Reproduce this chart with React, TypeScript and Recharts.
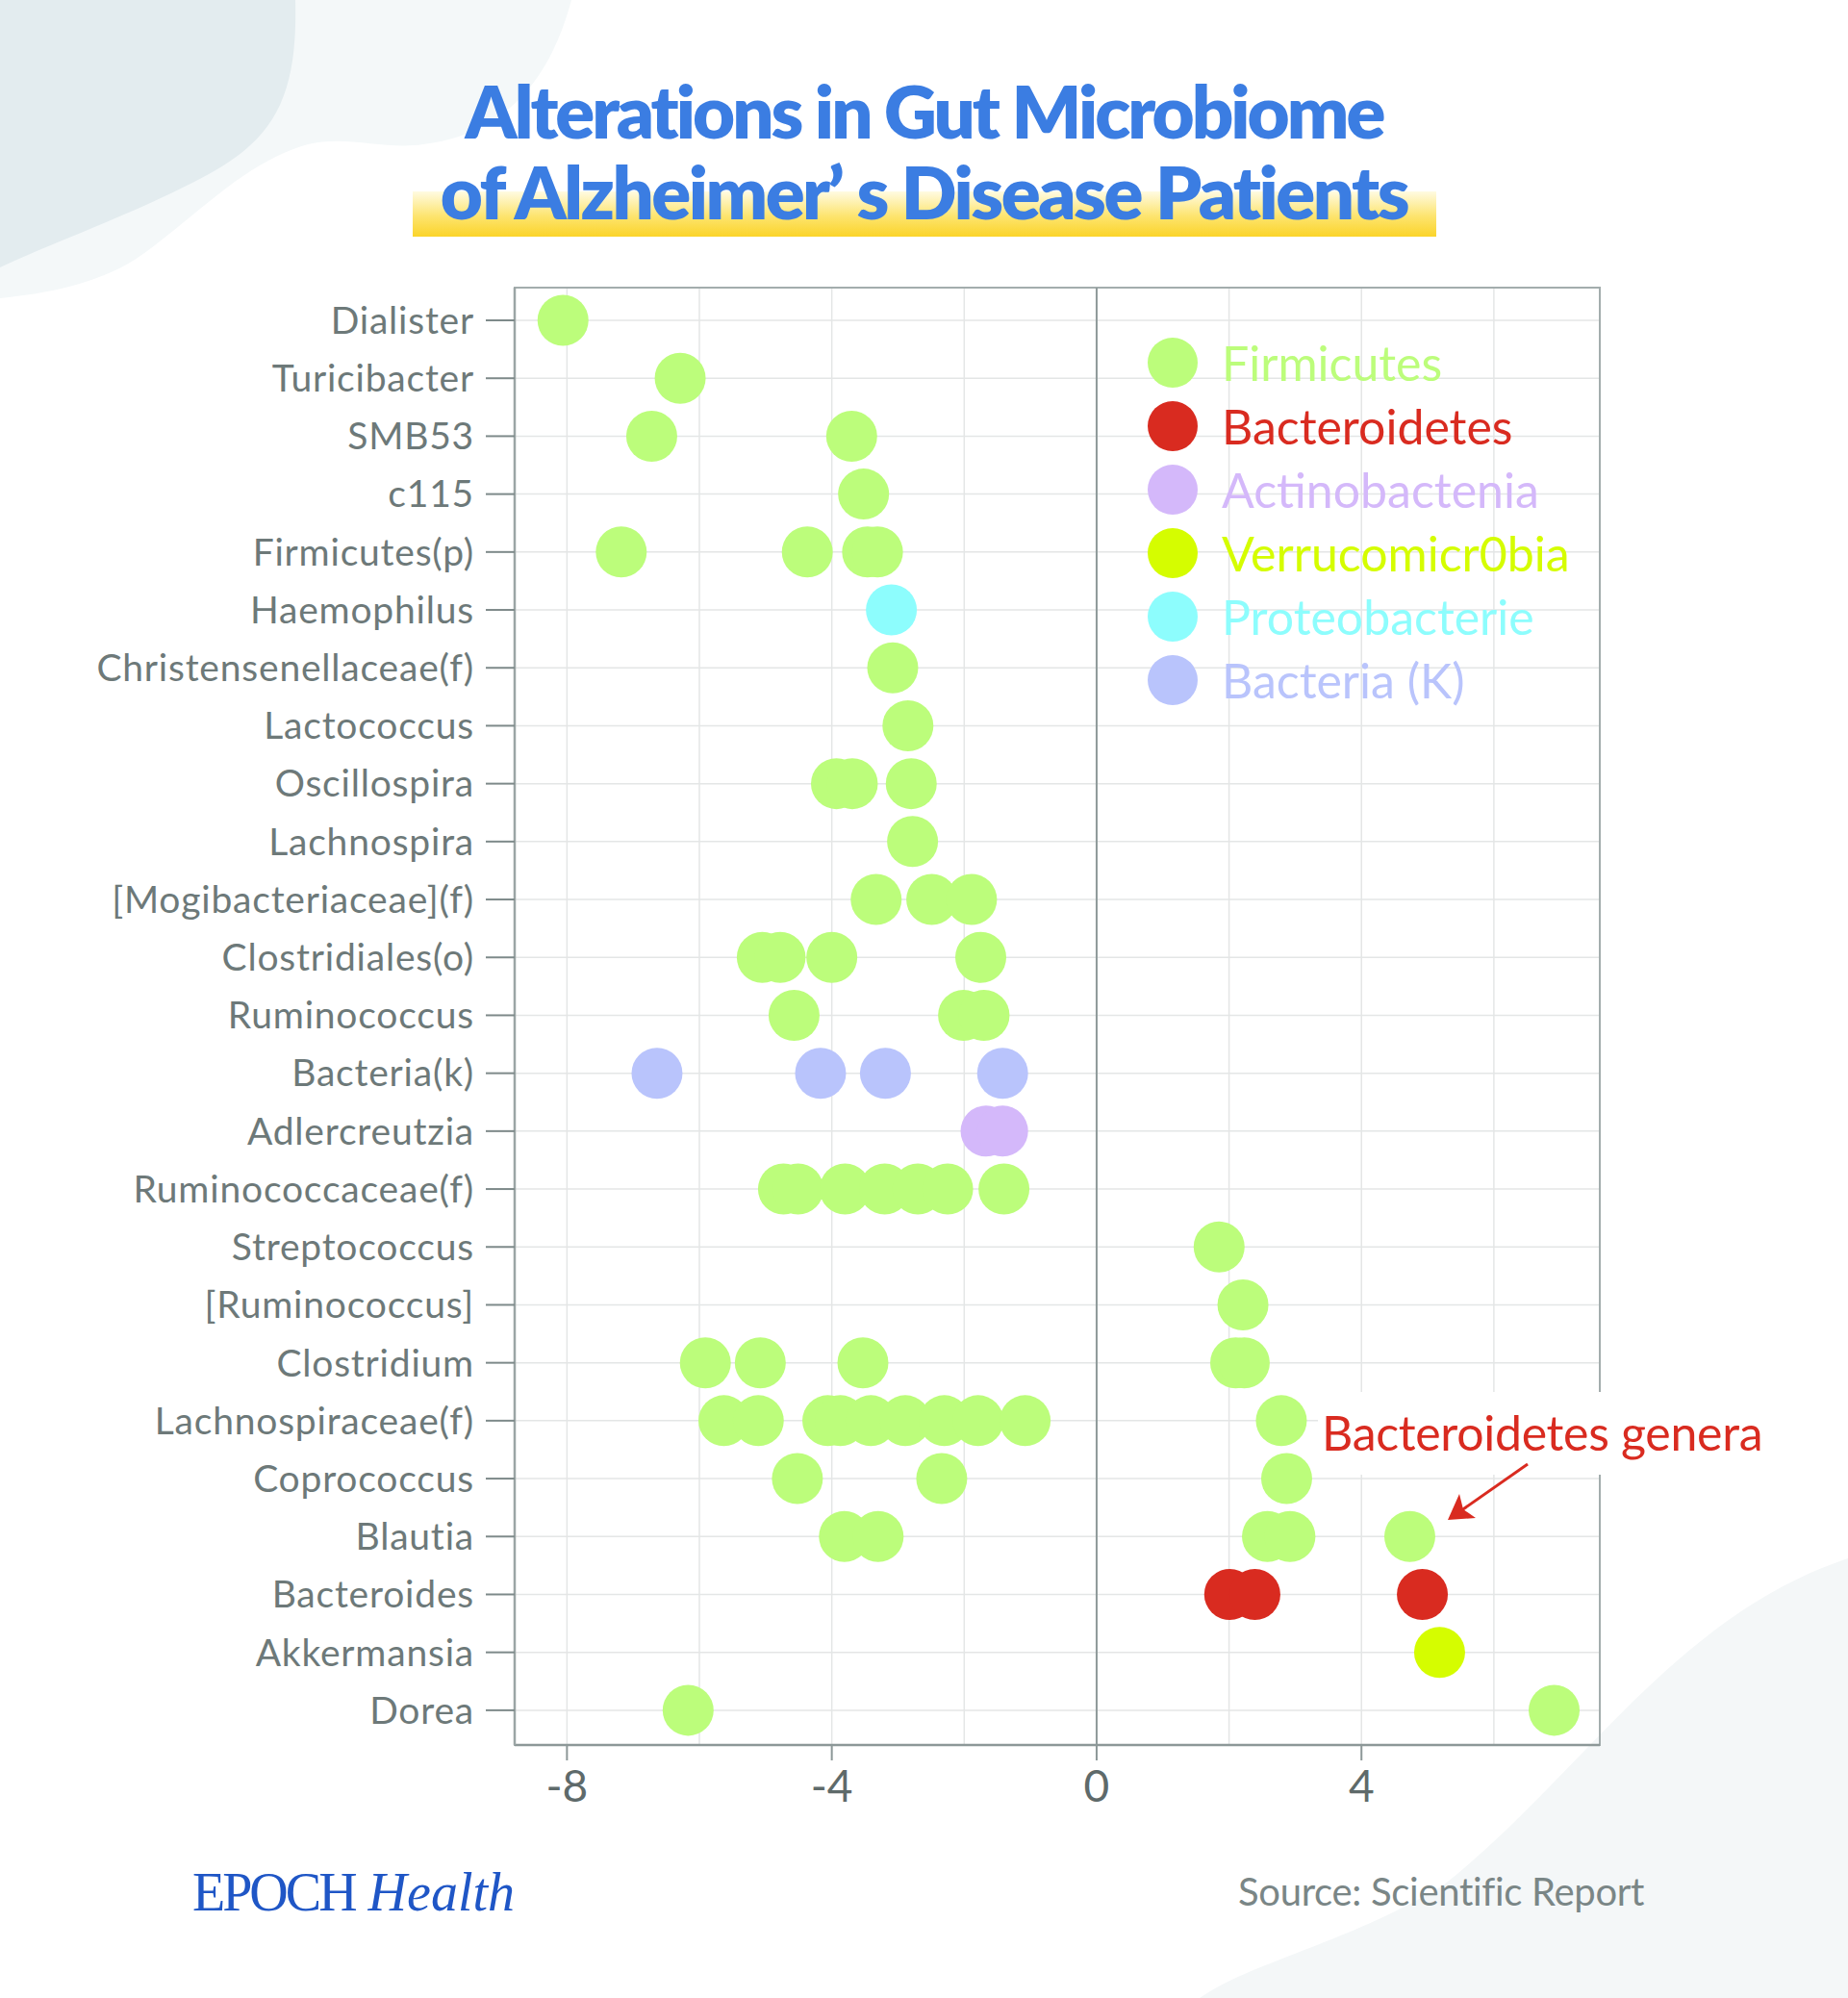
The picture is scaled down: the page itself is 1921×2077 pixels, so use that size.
import React from "react";
import {
  ScatterChart,
  Scatter,
  XAxis,
  YAxis,
  CartesianGrid,
  ReferenceLine,
  ReferenceArea,
  Legend,
} from "recharts";

// genera, top to bottom
const genera = [
  "Dialister",
  "Turicibacter",
  "SMB53",
  "c115",
  "Firmicutes(p)",
  "Haemophilus",
  "Christensenellaceae(f)",
  "Lactococcus",
  "Oscillospira",
  "Lachnospira",
  "[Mogibacteriaceae](f)",
  "Clostridiales(o)",
  "Ruminococcus",
  "Bacteria(k)",
  "Adlercreutzia",
  "Ruminococcaceae(f)",
  "Streptococcus",
  "[Ruminococcus]",
  "Clostridium",
  "Lachnospiraceae(f)",
  "Coprococcus",
  "Blautia",
  "Bacteroides",
  "Akkermansia",
  "Dorea",
];

// [genus, log fold change]
const firmicutes: [string, number][] = [
  ["Dialister", -8.06],
  ["Turicibacter", -6.29],
  ["SMB53", -6.72], ["SMB53", -3.7],
  ["c115", -3.52],
  ["Firmicutes(p)", -7.18], ["Firmicutes(p)", -4.37], ["Firmicutes(p)", -3.46], ["Firmicutes(p)", -3.31],
  ["Christensenellaceae(f)", -3.08],
  ["Lactococcus", -2.85],
  ["Oscillospira", -3.93], ["Oscillospira", -3.69], ["Oscillospira", -2.8],
  ["Lachnospira", -2.78],
  ["[Mogibacteriaceae](f)", -3.33], ["[Mogibacteriaceae](f)", -2.49], ["[Mogibacteriaceae](f)", -1.89],
  ["Clostridiales(o)", -5.05], ["Clostridiales(o)", -4.78], ["Clostridiales(o)", -4.0], ["Clostridiales(o)", -1.75],
  ["Ruminococcus", -4.57], ["Ruminococcus", -2.01], ["Ruminococcus", -1.7],
  ["Ruminococcaceae(f)", -4.73], ["Ruminococcaceae(f)", -4.51], ["Ruminococcaceae(f)", -3.8], ["Ruminococcaceae(f)", -3.2],
  ["Ruminococcaceae(f)", -2.7], ["Ruminococcaceae(f)", -2.25], ["Ruminococcaceae(f)", -1.4],
  ["Streptococcus", 1.85],
  ["[Ruminococcus]", 2.21],
  ["Clostridium", -5.91], ["Clostridium", -5.08], ["Clostridium", -3.53], ["Clostridium", 2.1], ["Clostridium", 2.23],
  ["Lachnospiraceae(f)", -5.63], ["Lachnospiraceae(f)", -5.11], ["Lachnospiraceae(f)", -4.06], ["Lachnospiraceae(f)", -3.87],
  ["Lachnospiraceae(f)", -3.41], ["Lachnospiraceae(f)", -2.89], ["Lachnospiraceae(f)", -2.3], ["Lachnospiraceae(f)", -1.79],
  ["Lachnospiraceae(f)", -1.08], ["Lachnospiraceae(f)", 2.79],
  ["Coprococcus", -4.52], ["Coprococcus", -2.34], ["Coprococcus", 2.87],
  ["Blautia", -3.81], ["Blautia", -3.3], ["Blautia", 2.58], ["Blautia", 2.92], ["Blautia", 4.73],
  ["Dorea", -6.17], ["Dorea", 6.91],
];
const bacteroidetes: [string, number][] = [
  ["Bacteroides", 2.01], ["Bacteroides", 2.39], ["Bacteroides", 4.92],
];
const actinobacteria: [string, number][] = [
  ["Adlercreutzia", -1.67], ["Adlercreutzia", -1.42],
];
const verrucomicrobia: [string, number][] = [["Akkermansia", 5.18]];
const proteobacteria: [string, number][] = [["Haemophilus", -3.1]];
const bacteriaK: [string, number][] = [
  ["Bacteria(k)", -6.64], ["Bacteria(k)", -4.17], ["Bacteria(k)", -3.19], ["Bacteria(k)", -1.42],
];

const xTicks = [-8, -6, -4, -2, 0, 2, 4, 6];
const xLabels = [-8, -4, 0, 4];
const X_DOMAIN: [number, number] = [-8.79, 7.6];
const Y_DOMAIN: [number, number] = [-0.565, 24.6];

const FONT = "Lato, 'Noto Sans', sans-serif";

const series = [
  { name: "Firmicutes", color: "#bcfd7b", rows: firmicutes },
  { name: "Bacteroidetes", color: "#d92b20", rows: bacteroidetes },
  { name: "Actinobactenia", color: "#d4b8fa", rows: actinobacteria },
  { name: "Verrucomicr0bia", color: "#d5fd00", rows: verrucomicrobia },
  { name: "Proteobacterie", color: "#8dfdfd", rows: proteobacteria },
  { name: "Bacteria (K)", color: "#b9c4fc", rows: bacteriaK },
];
const seriesOrder = series.map((s) => s.name);

const toPoints = (rows: [string, number][]) =>
  rows.map(([g, v]) => ({ x: v, y: genera.indexOf(g), genus: g }));

const XTick = (props: any) => {
  const { x, y, payload } = props;
  const v = payload.value;
  if (!xLabels.includes(v)) return null;
  return (
    <g>
      <line x1={x} x2={x} y1={y - 26} y2={y - 10} stroke="#8d9898" strokeWidth={2} />
      <text x={x} y={y} dy="0.71em" textAnchor="middle" fill="#5e6a6a" fontSize={46} fontFamily={FONT}>
        {v}
      </text>
    </g>
  );
};

const LegendContent = (props: any) => {
  const items = [...(props.payload || [])].sort(
    (a: any, b: any) => seriesOrder.indexOf(a.value) - seriesOrder.indexOf(b.value)
  );
  return (
    <div style={{ fontFamily: FONT }}>
      {items.map((it: any) => (
        <div key={it.value} style={{ display: "flex", alignItems: "center", height: 66 }}>
          <div
            style={{
              width: 52,
              height: 52,
              borderRadius: "50%",
              background: it.color,
              marginLeft: 3,
              flex: "none",
            }}
          />
          <span style={{ marginLeft: 25, fontSize: 50, color: it.color, lineHeight: "50px", whiteSpace: "nowrap" }}>
            {it.value}
          </span>
        </div>
      ))}
    </div>
  );
};

export default function App() {
  return (
    <div style={{ position: "absolute", left: 0, top: 0, width: 1921, height: 2077, background: "#fff", overflow: "hidden" }}>
      <svg width={1921} height={2077} style={{ position: "absolute", left: 0, top: 0 }}>
        <path d="M0,0 L594,0 C570,90 520,140 440,150 C400,156 360,140 320,150 C250,170 200,230 140,270 C100,295 50,305 0,310 Z" fill="#f4f8f9" />
        <path d="M0,0 L307,0 C310,110 280,150 200,190 C120,230 60,250 0,278 Z" fill="#e3ecef" />
        <path d="M1921,1620 C1740,1680 1640,1850 1500,1960 C1400,2020 1300,2040 1247,2077 L1921,2077 Z" fill="#f4f7f8" />
      </svg>

      <div style={{ position: "absolute", left: 429, top: 199, width: 1064, height: 47, background: "linear-gradient(to bottom, #fffbe2 0%, #fde46e 55%, #fbd42a 100%)" }} />
      <div style={{ position: "absolute", left: 0, top: 77, width: 1921, textAlign: "center", fontFamily: FONT, fontWeight: 800, fontSize: 76, lineHeight: "76px", letterSpacing: -3, color: "#3b7de2", whiteSpace: "nowrap" }}>
        Alterations in Gut Microbiome
      </div>
      <div style={{ position: "absolute", left: 0, top: 161, width: 1921, textAlign: "center", fontFamily: FONT, fontWeight: 800, fontSize: 76, lineHeight: "76px", letterSpacing: -2.5, color: "#3b7de2", whiteSpace: "nowrap" }}>
        of Alzheimer’ s Disease Patients
      </div>

      <div style={{ position: "absolute", left: 0, top: 0 }}>
        <ScatterChart width={1921} height={2077} margin={{ top: 299, right: 258, bottom: 203, left: 0 }}>
          <CartesianGrid stroke="#e4e6e6" strokeWidth={1.5} />
          <XAxis
            type="number"
            dataKey="x"
            domain={X_DOMAIN}
            ticks={xTicks}
            allowDataOverflow
            height={60}
            tickSize={16}
            tickMargin={10}
            tickLine={false}
            tick={<XTick />}
            axisLine={{ stroke: "#8d9898", strokeWidth: 2.5 }}
          />
          <YAxis
            type="number"
            dataKey="y"
            domain={Y_DOMAIN}
            ticks={genera.map((_, i) => i)}
            interval={0}
            reversed
            allowDataOverflow
            width={535}
            tickSize={30}
            tickMargin={12}
            tickFormatter={(i: number) => genera[i]}
            tick={{ fill: "#6d7979", fontSize: 39, fontFamily: FONT, letterSpacing: 0.8 }}
            tickLine={{ stroke: "#7e8a8a", strokeWidth: 2 }}
            axisLine={{ stroke: "#9ba5a5", strokeWidth: 2.5 }}
          />
          <ReferenceArea
            x1={X_DOMAIN[0]}
            x2={X_DOMAIN[1]}
            y1={Y_DOMAIN[0]}
            y2={Y_DOMAIN[1]}
            fill="none"
            fillOpacity={0}
            stroke="#a3adad"
            strokeWidth={2}
            ifOverflow="visible"
          />
          <ReferenceLine x={0} stroke="#8f9a9a" strokeWidth={2} />
          <Legend
            layout="vertical"
            align="center"
            verticalAlign="middle"
            content={<LegendContent />}
            wrapperStyle={{ position: "absolute", left: 1190, top: 344, width: 480, height: 400 }}
          />
          {series.map((s) => (
            <Scatter
              key={s.name}
              name={s.name}
              data={toPoints(s.rows)}
              fill={s.color}
              isAnimationActive={false}
              shape={(p: any) => <circle cx={p.cx} cy={p.cy} r={26.5} fill={s.color} />}
            />
          ))}
        </ScatterChart>
      </div>

      <div style={{ position: "absolute", left: 1370, top: 1447, height: 86, padding: "17px 4px 0", boxSizing: "border-box", background: "#fff", fontFamily: FONT, fontSize: 50, lineHeight: "50px", color: "#d92b20", whiteSpace: "nowrap", letterSpacing: -0.3 }}>
        Bacteroidetes genera
      </div>
      <svg width={1921} height={2077} style={{ position: "absolute", left: 0, top: 0, pointerEvents: "none" }}>
        <line x1={1588} y1={1522} x2={1515} y2={1573} stroke="#d92b20" strokeWidth={3} />
        <polygon points="1505,1580 1517,1553 1521,1569 1534,1578" fill="#d92b20" />
      </svg>

      <div style={{ position: "absolute", left: 200, top: 1939, fontFamily: "'Liberation Serif', serif", fontSize: 56, lineHeight: "56px", color: "#1f56c6", whiteSpace: "nowrap" }}>
        <span style={{ letterSpacing: -3 }}>EPOCH</span>
        <span style={{ fontStyle: "italic", marginLeft: 14 }}>Health</span>
      </div>
      <div style={{ position: "absolute", left: 1287, top: 1946, fontFamily: FONT, fontSize: 40, lineHeight: "40px", color: "#7a8686", whiteSpace: "nowrap", letterSpacing: -0.3 }}>
        Source: Scientific Report
      </div>
    </div>
  );
}
